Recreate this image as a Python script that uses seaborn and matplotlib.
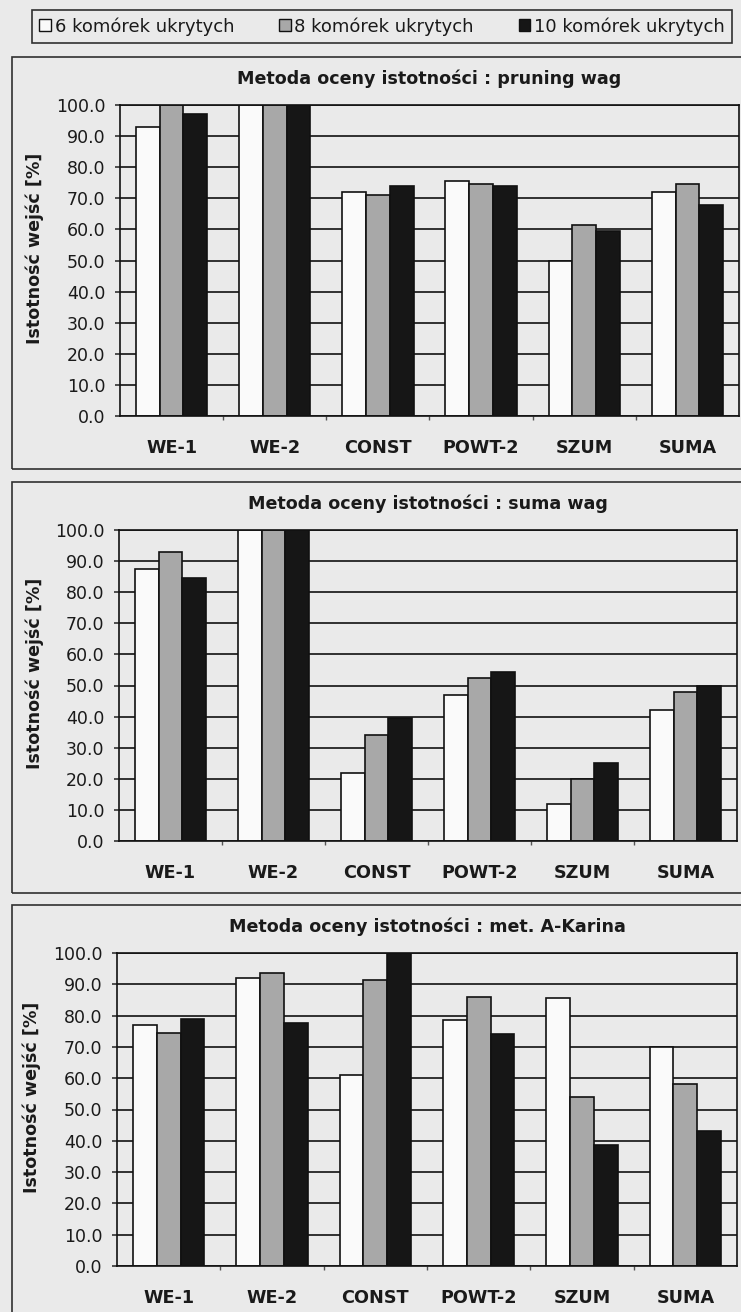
import numpy as np
import pandas as pd
import matplotlib
matplotlib.use("Agg")
import matplotlib.pyplot as plt
from matplotlib.patches import Patch, Rectangle
import seaborn as sns

# ---------------- data ----------------
categories = ["WE-1", "WE-2", "CONST", "POWT-2", "SZUM", "SUMA"]
series_names = ["6 komórek ukrytych", "8 komórek ukrytych", "10 komórek ukrytych"]

titles = [
    "Metoda oceny istotności : pruning wag",
    "Metoda oceny istotności : suma wag",
    "Metoda oceny istotności : met. A-Karina",
]

# panel 1: pruning wag
pruning_6 = [93.0, 100.0, 72.0, 75.5, 50.0, 72.0]
pruning_8 = [100.0, 100.0, 71.0, 74.5, 61.5, 74.5]
pruning_10 = [97.0, 100.0, 74.0, 74.0, 59.5, 68.0]

# panel 2: suma wag
suma_6 = [87.5, 100.0, 22.0, 47.0, 12.0, 42.0]
suma_8 = [93.0, 100.0, 34.0, 52.5, 20.0, 48.0]
suma_10 = [84.5, 100.0, 39.5, 54.5, 25.0, 50.0]

# panel 3: met. A-Karina
karina_6 = [77.0, 92.0, 61.0, 78.5, 85.5, 70.0]
karina_8 = [74.5, 93.5, 91.5, 86.0, 54.0, 58.0]
karina_10 = [79.0, 77.5, 100.0, 74.0, 38.5, 43.0]

y_ticks = [0, 10, 20, 30, 40, 50, 60, 70, 80, 90, 100]
y_ticklabels = ["0.0", "10.0", "20.0", "30.0", "40.0", "50.0",
                "60.0", "70.0", "80.0", "90.0", "100.0"]
y_label = "Istotność wejść [%]"

panels = [
    (pruning_6, pruning_8, pruning_10),
    (suma_6, suma_8, suma_10),
    (karina_6, karina_8, karina_10),
]

# ---------------- style ----------------
sns.set_theme(style="white")
plt.rcParams["font.family"] = ["DejaVu Sans"]

BG = "#eaeaea"
TXT = "#1a1a1a"
bar_colors = ["#fafafa", "#a8a8a8", "#161616"]

W, H = 741, 1312
fig = plt.figure(figsize=(W / 100, H / 100), dpi=100)
fig.patch.set_facecolor(BG)

def frac_rect(left, top, right, bottom):
    return [left / W, 1 - bottom / H, (right - left) / W, (bottom - top) / H]

# axes geometry in pixels: (left, top(100), right, bottom(0))
axes_px = [
    (120, 105, 739, 416),
    (119, 530, 737, 841),
    (117, 953, 737, 1266),
]
# panel frames in pixels
frames_px = [
    (12, 57, 745, 469),
    (12, 482, 745, 893),
    (12, 905, 745, 1325),
]

for (l, t, r, b) in frames_px:
    fig.patches.append(Rectangle((l / W, 1 - b / H), (r - l) / W, (b - t) / H,
                                 transform=fig.transFigure, fill=False,
                                 edgecolor="#303030", linewidth=1.2, zorder=0))

for idx, (vals, (l, t, r, b)) in enumerate(zip(panels, axes_px)):
    ax = fig.add_axes(frac_rect(l, t, r, b))
    ax.set_facecolor("none")
    rows = []
    for s_name, s_vals in zip(series_names, vals):
        for c, v in zip(categories, s_vals):
            rows.append({"cat": c, "val": v, "series": s_name})
    df = pd.DataFrame(rows)
    sns.barplot(data=df, x="cat", y="val", hue="series", order=categories,
                hue_order=series_names, palette=bar_colors, width=0.69,
                gap=0, saturation=1, edgecolor="#111111", linewidth=1.2,
                legend=False, ax=ax)
    ax.set_ylim(0, 100)
    ax.set_xlim(-0.5, len(categories) - 0.5)
    ax.set_yticks(y_ticks)
    ax.set_yticklabels(y_ticklabels, fontsize=12.5, color=TXT)
    ax.set_xticks(range(len(categories)))
    ax.set_xticklabels(categories, fontsize=12.7, fontweight="bold", color=TXT)
    ax.set_xticks([i + 0.5 for i in range(len(categories) - 1)], minor=True)
    ax.tick_params(axis="x", which="major", length=0, pad=16.5)
    ax.tick_params(axis="x", which="minor", length=3, width=1, color="#555555",
                   direction="out", bottom=True)
    ax.tick_params(axis="y", which="major", length=3.5, width=1.1,
                   color="#222222", direction="out", pad=7, left=True)
    ax.yaxis.grid(True, color="#111111", linewidth=1.2)
    ax.xaxis.grid(False)
    ax.set_axisbelow(True)
    for sp in ax.spines.values():
        sp.set_visible(True)
        sp.set_color("#111111")
        sp.set_linewidth(1.2)
    ax.set_xlabel("")
    ax.set_ylabel(y_label, fontsize=12.6, fontweight="bold", color=TXT,
                  va="center")
    ax.yaxis.set_label_coords(-0.137, 0.54)
    ax.set_title(titles[idx], fontsize=12.6, fontweight="bold", color=TXT, pad=15)

# legend
handles = [Patch(facecolor=c, edgecolor="#111111", linewidth=1.0) for c in bar_colors]
leg = fig.legend(handles, series_names, loc="lower left",
                 bbox_to_anchor=(32 / W, 1 - 43 / H, 700 / W, 35 / H),
                 mode="expand", ncol=3, fontsize=13, frameon=True,
                 fancybox=False, edgecolor="#303030", facecolor=BG,
                 framealpha=1, borderaxespad=0, borderpad=0.4,
                 handlelength=0.65, handleheight=0.65, handletextpad=0.2,
                 columnspacing=1.0)
leg.get_frame().set_linewidth(1.2)
for txt in leg.get_texts():
    txt.set_color(TXT)

fig.savefig("out.png", dpi=100, facecolor=BG)
